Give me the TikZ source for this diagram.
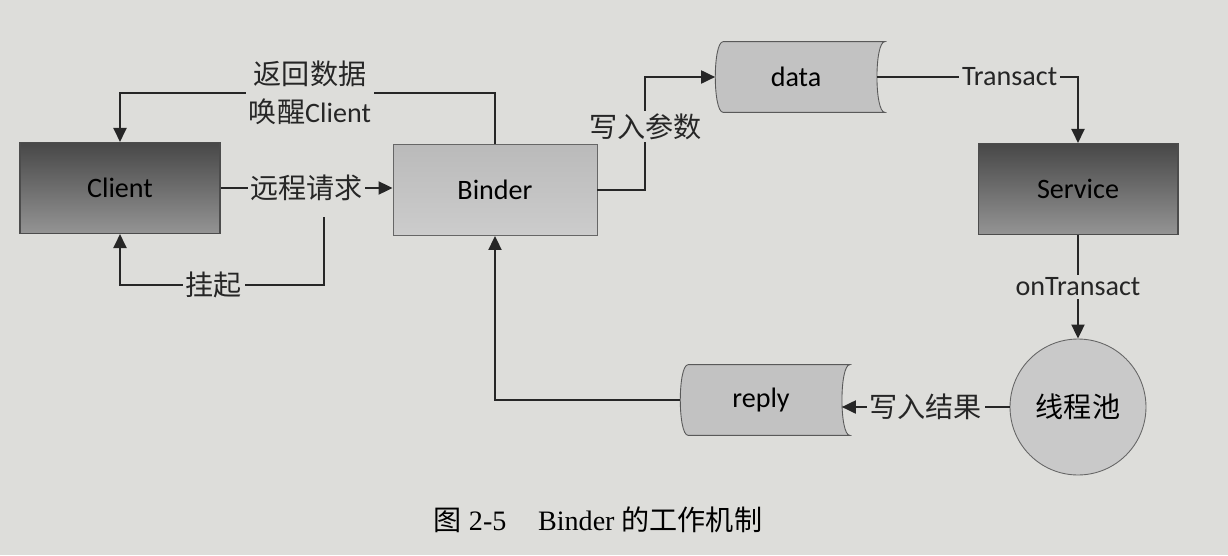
\documentclass[tikz,border=0pt]{standalone}
\usepackage{fontspec}
\setmainfont{Carlito}
\newfontfamily\cjk{Noto Sans CJK SC}
\newfontfamily\capfont{Liberation Serif}
\usetikzlibrary{arrows.meta,backgrounds}
\definecolor{paper}{RGB}{221,221,218}
\tikzstyle{darkbox} = [rectangle, draw=black!70, line width=0.6pt, top color=black!72, bottom color=black!42, minimum width=4cm, minimum height=1.82cm]
\tikzstyle{lightbox} = [rectangle, draw=black!60, line width=0.5pt, top color=black!27, bottom color=black!20, minimum width=4.08cm, minimum height=1.82cm]
\tikzstyle{tape} = [rectangle, minimum width=3.22cm, minimum height=1.4cm]
\tikzstyle{pool} = [circle, draw=black!60, line width=0.5pt, fill=black!21, minimum size=2.72cm]
\tikzstyle{flow} = [draw=black!85, line width=1.1pt, -{Triangle[length=0.28cm,width=0.26cm]}]
\tikzstyle{lbl} = [fill=paper, inner sep=1.5pt, text=black!85]
\newcommand{\tapeshape}[1]{%
  \draw[draw=black!65, line width=0.5pt, fill=black!24]
    ([xshift=0.16cm]#1.north west) -- ([xshift=0.16cm]#1.north east)
    .. controls ([xshift=-0.05cm]#1.north east) and ([xshift=-0.05cm]#1.south east) .. ([xshift=0.16cm]#1.south east)
    -- ([xshift=0.16cm]#1.south west)
    .. controls ([xshift=-0.05cm]#1.south west) and ([xshift=-0.05cm]#1.north west) .. cycle;}

\begin{document}
\begin{tikzpicture}[x=0.02cm, y=-0.02cm, font=\fontsize{16}{21.5}\selectfont]
  \useasboundingbox (0,0) rectangle (1228,555);

  \node[darkbox] (client) at (120,188) {Client};
  \node[lightbox] (binder) at (495,190) {Binder};
  \node[darkbox] (service) at (1078,189) {Service};
  \node[tape] (data) at (796,77) {data};
  \node[tape] (reply) at (761,400) {reply};
  \node[pool] (pool) at (1078,407) {\cjk 线程池};
  \coordinate (hang) at (324,217);

  \draw[flow] (client.east) -- node[lbl] {\cjk 远程请求} (client.east -| binder.west);
  \draw[flow] (binder.north) |- (310,93) node[lbl, align=center] {{\cjk 返回数据}\\{\cjk 唤醒}Client} -| (client.north);
  \draw[flow] (hang) -- ++(0,68) -| node[lbl, pos=0.27] {\cjk 挂起} (client.south);
  \draw[flow] (binder.east) -- ++(48,0) |- node[lbl, pos=0.28] {\cjk 写入参数} (data.west);
  \draw[flow] (data.east) -| node[lbl, pos=0.33] {Transact} (service.north);
  \draw[flow] (service.south) -- node[lbl] {onTransact} (pool.north);
  \draw[flow] (pool.west) -- node[lbl] {\cjk 写入结果} (pool.west -| reply.east);
  \draw[flow] (reply.west) -| (binder.south);

  \node[font=\fontsize{16}{19}\capfont] (caption) at (598,520) {{\cjk 图} 2-5\hspace{18pt}Binder {\cjk 的工作机制}};

  \begin{pgfonlayer}{background}
    \fill[paper] (0,0) rectangle (1228,555);
    \tapeshape{data}
    \tapeshape{reply}
  \end{pgfonlayer}
\end{tikzpicture}
\end{document}
